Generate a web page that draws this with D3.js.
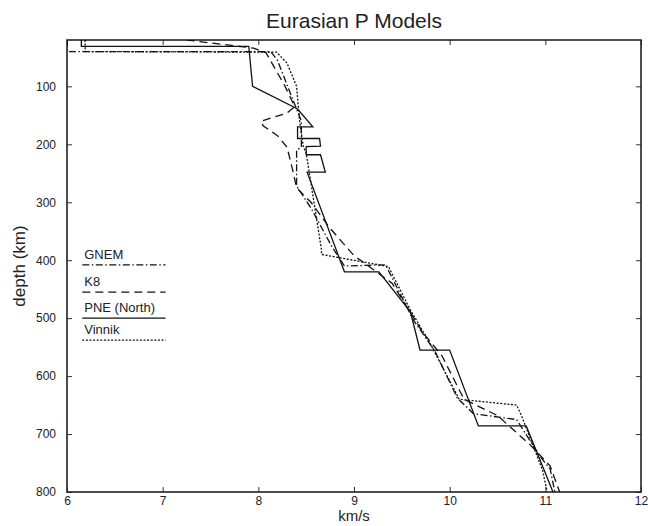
<!DOCTYPE html>
<html>
<head>
<meta charset="utf-8">
<script src="https://cdn.jsdelivr.net/npm/d3@7"></script>
<style>
  body { margin: 0; background: #fff; }
  svg text { font-family: "Liberation Sans", Arial, Helvetica, sans-serif; fill: #222; }
</style>
</head>
<body>
<div id="chart"></div>
<script>
// velocity (km/s), depth (km) pairs
var gnem = [[6.0,20],[6.0,40],[8.13,40],[8.2,55],[8.33,110],[8.45,160],[8.45,205],[8.40,210],
  [8.40,272],[8.55,310],[8.77,377],[8.9,410],[9.33,408],[9.62,503],[9.85,558],[10.08,638],
  [10.25,665],[10.7,675],[10.95,740],[11.05,760],[11.1,800]];
var k8 = [[7.25,20],[7.6,27],[7.95,34],[8.08,42],[8.28,100],[8.38,135],[8.3,146],[8.03,160],
  [8.05,168],[8.2,185],[8.3,205],[8.36,245],[8.40,275],[8.55,300],[8.75,345],[9.0,392],
  [9.15,410],[9.4,440],[9.72,525],[9.92,565],[10.15,640],[10.5,668],[10.85,720],[11.05,755],[11.15,800]];
var pne = [[6.15,20],[6.15,31],[7.90,31],[7.94,100],[8.41,139],[8.57,170],[8.41,170],[8.41,190],
  [8.64,190],[8.65,203],[8.50,204],[8.50,218],[8.65,218],[8.70,248],[8.51,248],[8.90,420],
  [9.26,420],[9.59,489],[9.69,555],[10.0,555],[10.30,686],[10.80,686],[11.08,800]];
var vinnik = [[6.19,20],[6.19,40],[8.19,41],[8.3,60],[8.40,100],[8.43,158],[8.47,204],[8.5,215],
  [8.66,382],[8.66,390],[9.36,411],[9.59,486],[9.8,545],[10.1,640],[10.7,650],[10.75,668],
  [10.97,762],[11.02,800]];

var modelNames = ["GNEM", "K8", "PNE (North)", "Vinnik"];
var modelData = [gnem, k8, pne, vinnik];
var legendDepths = [408, 455, 500, 538];
var dashes = ["7,2.5,1.5,2.5", "8,5", null, "2,1.6"];

var xTicks = [6, 7, 8, 9, 10, 11, 12];
var yTicks = [100, 200, 300, 400, 500, 600, 700, 800];

var W = 648, H = 526;
var margin = {top: 40, right: 7, bottom: 34, left: 67},
    width = W - margin.left - margin.right,
    height = H - margin.top - margin.bottom;

var x = d3.scaleLinear().domain([6, 12]).range([0, width]);
var y = d3.scaleLinear().domain([20, 800]).range([0, height]);

var svg = d3.select("#chart").append("svg")
    .attr("width", W).attr("height", H);

svg.append("text")
    .attr("x", margin.left + width / 2).attr("y", 28)
    .attr("text-anchor", "middle")
    .style("font-size", "21px")
    .text("Eurasian P Models");

var g = svg.append("g")
    .attr("transform", "translate(" + margin.left + "," + margin.top + ")");

g.append("clipPath").attr("id", "clip")
  .append("rect").attr("width", width).attr("height", height);

// axes, ticks pointing inward
g.append("g")
    .attr("transform", "translate(0," + height + ")")
    .call(d3.axisBottom(x).tickValues(xTicks).tickSize(-5).tickPadding(4).tickFormat(d3.format("d")));
g.append("g")
    .call(d3.axisLeft(y).tickValues(yTicks).tickSize(-5).tickPadding(11));
g.append("g")
    .call(d3.axisTop(x).tickValues(xTicks).tickSize(-5).tickFormat(""));
g.append("g")
    .attr("transform", "translate(" + width + ",0)")
    .call(d3.axisRight(y).tickValues(yTicks).tickSize(-5).tickFormat(""));

g.selectAll(".domain").remove();
g.selectAll(".tick line").attr("stroke", "#333").attr("stroke-width", 1);
g.selectAll(".tick text").style("font-size", "12px").attr("fill", "#222");

g.append("rect")
    .attr("width", width).attr("height", height)
    .attr("fill", "none").attr("stroke", "#222").attr("stroke-width", 1.6);

var line = d3.line()
    .x(function(d) { return x(d[0]); })
    .y(function(d) { return y(d[1]); });

g.append("g").attr("clip-path", "url(#clip)")
  .selectAll("path")
  .data(modelData)
  .enter().append("path")
    .attr("d", line)
    .attr("fill", "none")
    .attr("stroke", "#111")
    .attr("stroke-width", 1.3)
    .attr("stroke-dasharray", function(d, i) { return dashes[i]; });

// legend
var leg = g.append("g");
modelNames.forEach(function(name, i) {
  var ly = y(legendDepths[i]);
  leg.append("line")
      .attr("x1", x(6.16)).attr("x2", x(7.03))
      .attr("y1", ly).attr("y2", ly)
      .attr("stroke", "#111").attr("stroke-width", 1.3)
      .attr("stroke-dasharray", dashes[i]);
  leg.append("text")
      .attr("x", x(6.18)).attr("y", ly - 6)
      .style("font-size", "13px")
      .text(name);
});

svg.append("text")
    .attr("x", margin.left + width / 2).attr("y", 521)
    .attr("text-anchor", "middle")
    .style("font-size", "15px")
    .text("km/s");

svg.append("text")
    .attr("transform", "translate(25," + (margin.top + height / 2) + ") rotate(-90)")
    .attr("text-anchor", "middle")
    .style("font-size", "17px")
    .text("depth (km)");
</script>
</body>
</html>
